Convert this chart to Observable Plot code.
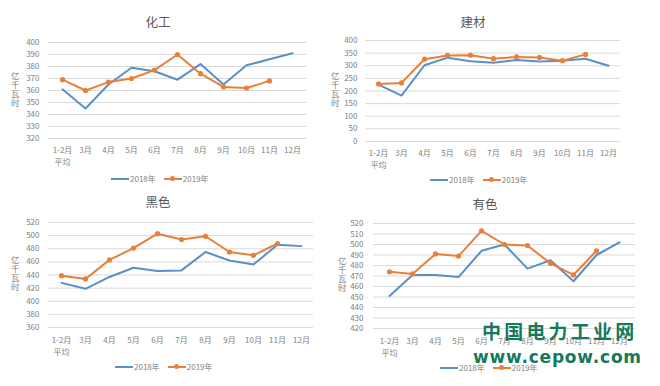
<!DOCTYPE html>
<html><head><meta charset="utf-8">
<script src="https://cdn.jsdelivr.net/npm/d3@7"></script>
<script src="https://cdn.jsdelivr.net/npm/@observablehq/plot@0.6"></script>
<style>
body{margin:0;background:#fff;}
#root{position:relative;width:660px;height:386px;overflow:hidden;font-family:"Noto Sans CJK SC","DejaVu Sans",sans-serif;color:#595959;background:#fff;}
.abs{position:absolute;}
.title{font-size:12.5px;color:#595959;transform:translate(-50%,-50%);white-space:nowrap;line-height:1;}
.ytitle{writing-mode:vertical-rl;text-orientation:upright;font-size:8.5px;line-height:1;color:#7f7f7f;transform:translateX(-50%);letter-spacing:0.5px;}
.legend{display:flex;align-items:center;font-size:8px;color:#7f7f7f;transform:translateY(-50%);white-space:nowrap;line-height:1;}
.sw{position:relative;width:18px;height:2px;margin-right:1px;}
.sw .dot{position:absolute;left:6.5px;top:-2px;width:5px;height:5px;border-radius:50%;}
.wm{color:#15795b;font-weight:bold;white-space:nowrap;line-height:1;}
</style></head>
<body><div id="root"></div>
<script>
const months = ["1-2月\n平均","3月","4月","5月","6月","7月","8月","9月","10月","11月","12月"];
const seriesNames = ["2018年","2019年"];
const colors = ["#5b8fc6","#e8803a"];
const yTitle = "亿千瓦时";

// 化工
const chemTitle = "化工";
const chem2018 = [361,345,365,379,376,369,382,365,381,386,391];
const chem2019 = [369,360,367,370,377,390,374,363,362,368];
const chemTicks = [320,330,340,350,360,370,380,390,400];

// 建材
const buildTitle = "建材";
const build2018 = [225,182,302,332,318,312,323,317,320,328,300];
const build2019 = [228,232,326,341,342,328,335,333,320,345];
const buildTicks = [0,50,100,150,200,250,300,350,400];

// 黑色
const ferTitle = "黑色";
const fer2018 = [428,419,437,451,446,447,475,462,456,486,484];
const fer2019 = [439,434,463,481,503,494,499,475,470,488];
const ferTicks = [360,380,400,420,440,460,480,500,520];

// 有色
const nonTitle = "有色";
const non2018 = [451,471,471,469,494,500,477,485,465,490,502];
const non2019 = [474,472,491,489,513,500,499,482,471,494];
const nonTicks = [420,430,440,450,460,470,480,490,500,510,520];

const wm1 = "中国电力工业网";
const wm2 = "www.cepow.com";

const root = document.getElementById("root");
function el(cls, text, style){
  const d = document.createElement("div");
  d.className = "abs " + cls;
  if (text != null) d.textContent = text;
  Object.assign(d.style, style);
  root.appendChild(d);
  return d;
}
function rows(vals){ return vals.map((v,i)=>({m: months[i], v})); }

function panel(cfg){
  const {left, top, width, height, ml, mr, mt, mb, ticks, a, b, ypad, xpad} = cfg;
  const chart = Plot.plot({
    width, height, marginLeft: ml, marginRight: mr, marginTop: mt, marginBottom: mb,
    style: {fontFamily: '"Noto Sans CJK SC","DejaVu Sans",sans-serif', fontSize: "8px", color: "#7f7f7f", background: "transparent", overflow: "visible"},
    x: {type: "point", domain: months, padding: 0.5},
    y: {domain: [ticks[0], ticks[ticks.length-1]]},
    marks: [
      Plot.gridY(ticks, {stroke: "#d9d9d9", strokeOpacity: 1, strokeWidth: 1}),
      Plot.axisY(ticks, {tickSize: 0, tickPadding: ypad, label: null}),
      Plot.axisX({tickSize: 0, tickPadding: xpad, label: null, lineHeight: 1.6}),
      Plot.line(rows(a), {x: "m", y: "v", stroke: colors[0], strokeWidth: 2}),
      Plot.line(rows(b), {x: "m", y: "v", stroke: colors[1], strokeWidth: 2}),
      Plot.dot(rows(b), {x: "m", y: "v", fill: colors[1], r: 2.6})
    ]
  });
  chart.style.position = "absolute";
  chart.style.left = left + "px";
  chart.style.top = top + "px";
  root.appendChild(chart);
}

function legend(x, y){
  const lg = el("legend", null, {left: x + "px", top: y + "px"});
  seriesNames.forEach((n,i)=>{
    const sw = document.createElement("div");
    sw.className = "sw";
    sw.style.background = colors[i];
    if (i === 1){
      const d = document.createElement("div");
      d.className = "dot"; d.style.background = colors[i];
      sw.appendChild(d);
    }
    const t = document.createElement("span");
    t.textContent = n;
    t.style.marginRight = i === 0 ? "8px" : "0";
    lg.appendChild(sw); lg.appendChild(t);
  });
}

// Panel 1
el("title", chemTitle, {left: "158px", top: "22px"});
el("ytitle", yTitle, {left: "15px", top: "72px"});
panel({left: 0, top: 30, width: 320, height: 142, ml: 48, mr: 14, mt: 12, mb: 34, ticks: chemTicks, a: chem2018, b: chem2019, ypad: 9, xpad: 5});
legend(111, 179);

// Panel 2
el("title", buildTitle, {left: "473px", top: "22px"});
el("ytitle", yTitle, {left: "335px", top: "72px"});
panel({left: 330, top: 28, width: 330, height: 144, ml: 35, mr: 40, mt: 12, mb: 31, ticks: buildTicks, a: build2018, b: build2019, ypad: 8, xpad: 5});
legend(430, 180);

// Panel 3
el("title", ferTitle, {left: "158px", top: "202px"});
el("ytitle", yTitle, {left: "15px", top: "256px"});
panel({left: 0, top: 212, width: 320, height: 148, ml: 48, mr: 7, mt: 10, mb: 33, ticks: ferTicks, a: fer2018, b: fer2019, ypad: 9, xpad: 6});
legend(115, 367);

// Panel 4
el("title", nonTitle, {left: "485px", top: "204px"});
el("ytitle", yTitle, {left: "342px", top: "257px"});
panel({left: 330, top: 212, width: 330, height: 148, ml: 43, mr: 25, mt: 11, mb: 32, ticks: nonTicks, a: non2018, b: non2019, ypad: 10, xpad: 6});
legend(440, 368);

// Watermark
el("wm", wm1, {left: "482px", top: "321px", fontSize: "19px", letterSpacing: "3.2px", fontFamily: '"Noto Sans CJK SC",sans-serif'});
el("wm", wm2, {left: "473px", top: "349px", fontSize: "17px", letterSpacing: "0.8px", fontFamily: '"DejaVu Sans",sans-serif'});
</script>
</body></html>
